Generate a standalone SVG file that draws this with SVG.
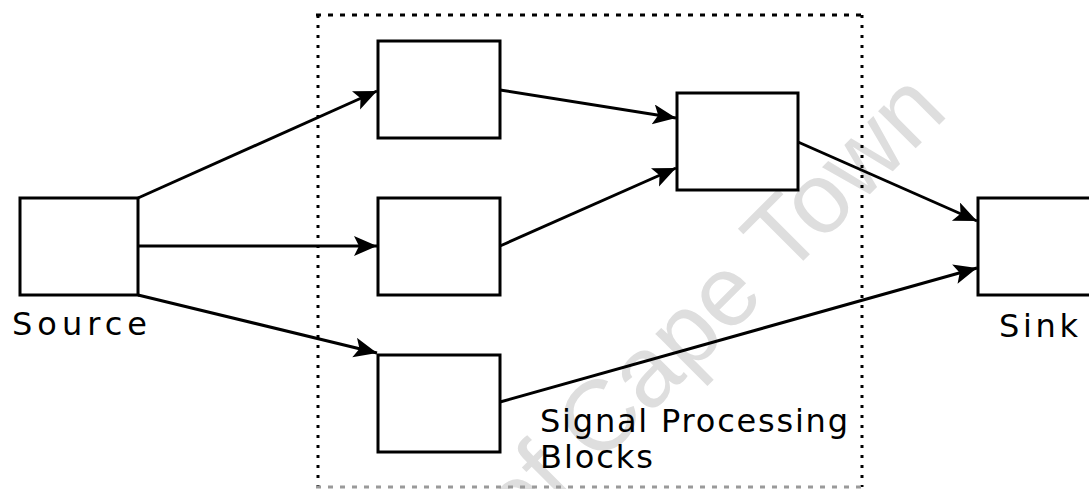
<svg xmlns="http://www.w3.org/2000/svg" width="1089" height="489" viewBox="0 0 1089 489">
  <style>
    .box { fill: #ffffff; stroke: #000000; stroke-width: 3; }
    .edge { fill: none; stroke: #000000; stroke-width: 3; marker-end: url(#arrow); }
    .lbl { font-family: "DejaVu Sans", Verdana, sans-serif; font-size: 32px; fill: #000000; }
    .wm { font-family: "Liberation Sans", Arial, sans-serif; font-size: 100px; fill: #dedede; }
    .dotH { stroke: #000000; stroke-width: 3; stroke-dasharray: 5 7; fill: none; }
    .dotV { stroke: #000000; stroke-width: 3; stroke-dasharray: 3 7; fill: none; }
  </style>
  <defs>
    <marker id="arrow" markerUnits="userSpaceOnUse" markerWidth="26" markerHeight="22" refX="23" refY="10" orient="auto">
      <path d="M0,0 L23,10 L0,20 L5,10 Z" fill="#000000"/>
    </marker>
  </defs>
  <rect width="1089" height="489" fill="#ffffff"/>

  <!-- watermark -->
  <text class="wm" x="0" y="0" text-anchor="end" transform="translate(950,114) rotate(-45)">of Cape Town</text>

  <!-- signal processing region -->
  <g id="region">
    <line class="dotH" x1="316" y1="15" x2="862" y2="15"/>
    <line class="dotV" x1="318" y1="15" x2="318" y2="487"/>
    <line class="dotV" x1="862" y1="15" x2="862" y2="487"/>
    <line class="dotH" x1="316" y1="487" x2="862" y2="487" style="stroke:#9a9a9a"/>
    <text class="lbl" x="540" y="432" textLength="308" lengthAdjust="spacing">Signal Processing</text>
    <text class="lbl" x="540" y="468" textLength="113" lengthAdjust="spacing">Blocks</text>
  </g>

  <g id="connectors">
    <line class="edge" x1="138" y1="198" x2="377" y2="91"/>
    <line class="edge" x1="138" y1="246" x2="377" y2="246"/>
    <line class="edge" x1="138" y1="295" x2="377" y2="353"/>
    <line class="edge" x1="500" y1="90" x2="676" y2="118"/>
    <line class="edge" x1="500" y1="246" x2="676" y2="168"/>
    <line class="edge" x1="798" y1="142" x2="977" y2="221"/>
    <line class="edge" x1="500" y1="402" x2="977" y2="268"/>
  </g>

  <g id="source">
    <rect class="box" x="20" y="198" width="118" height="97"/>
    <text class="lbl" x="12" y="335" textLength="135" lengthAdjust="spacing">Source</text>
  </g>
  <g id="block-top">
    <rect class="box" x="378" y="41" width="122" height="97"/>
  </g>
  <g id="block-middle">
    <rect class="box" x="378" y="198" width="122" height="97"/>
  </g>
  <g id="block-bottom">
    <rect class="box" x="378" y="355" width="122" height="97"/>
  </g>
  <g id="block-combine">
    <rect class="box" x="677" y="93" width="121" height="97"/>
  </g>
  <g id="sink">
    <rect class="box" x="978" y="198" width="120" height="97"/>
    <text class="lbl" x="999" y="337" textLength="79" lengthAdjust="spacing">Sink</text>
  </g>
</svg>
